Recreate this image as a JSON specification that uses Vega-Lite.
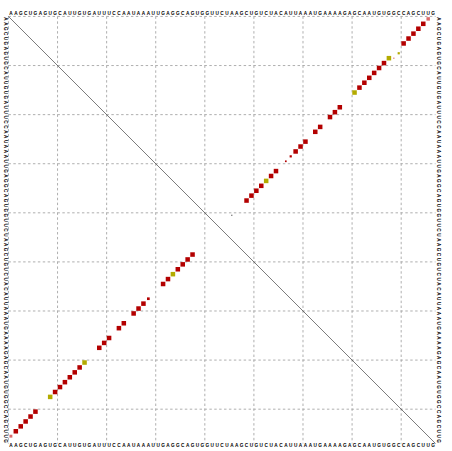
{
  "$schema": "https://vega.github.io/schema/vega-lite/v6.json",
  "width": 427.09,
  "height": 427.09,
  "autosize": "none",
  "padding": {"left": 8.45, "top": 16.45, "right": 16.46, "bottom": 7.46},
  "background": "white",
  "config": {"view": {"stroke": null}},
  "datasets": {
    "grid": [{"g": 0.5}, {"g": 10.5}, {"g": 20.5}, {"g": 30.5}, {"g": 40.5}, {"g": 50.5}, {"g": 60.5}, {"g": 70.5}, {"g": 80.5}],
    "seq": [
      {"i":1,"b":"A"},{"i":2,"b":"A"},{"i":3,"b":"G"},{"i":4,"b":"C"},{"i":5,"b":"U"},{"i":6,"b":"G"},{"i":7,"b":"A"},{"i":8,"b":"G"},{"i":9,"b":"U"},{"i":10,"b":"G"},
      {"i":11,"b":"C"},{"i":12,"b":"A"},{"i":13,"b":"U"},{"i":14,"b":"U"},{"i":15,"b":"G"},{"i":16,"b":"U"},{"i":17,"b":"G"},{"i":18,"b":"A"},{"i":19,"b":"U"},{"i":20,"b":"U"},
      {"i":21,"b":"U"},{"i":22,"b":"C"},{"i":23,"b":"C"},{"i":24,"b":"A"},{"i":25,"b":"A"},{"i":26,"b":"U"},{"i":27,"b":"A"},{"i":28,"b":"A"},{"i":29,"b":"A"},{"i":30,"b":"U"},
      {"i":31,"b":"U"},{"i":32,"b":"G"},{"i":33,"b":"A"},{"i":34,"b":"G"},{"i":35,"b":"G"},{"i":36,"b":"C"},{"i":37,"b":"A"},{"i":38,"b":"G"},{"i":39,"b":"U"},{"i":40,"b":"G"},
      {"i":41,"b":"G"},{"i":42,"b":"U"},{"i":43,"b":"U"},{"i":44,"b":"C"},{"i":45,"b":"U"},{"i":46,"b":"A"},{"i":47,"b":"A"},{"i":48,"b":"G"},{"i":49,"b":"C"},{"i":50,"b":"U"},
      {"i":51,"b":"G"},{"i":52,"b":"U"},{"i":53,"b":"C"},{"i":54,"b":"U"},{"i":55,"b":"A"},{"i":56,"b":"C"},{"i":57,"b":"A"},{"i":58,"b":"U"},{"i":59,"b":"U"},{"i":60,"b":"A"},
      {"i":61,"b":"A"},{"i":62,"b":"A"},{"i":63,"b":"U"},{"i":64,"b":"G"},{"i":65,"b":"A"},{"i":66,"b":"A"},{"i":67,"b":"A"},{"i":68,"b":"A"},{"i":69,"b":"G"},{"i":70,"b":"A"},
      {"i":71,"b":"G"},{"i":72,"b":"C"},{"i":73,"b":"A"},{"i":74,"b":"A"},{"i":75,"b":"U"},{"i":76,"b":"G"},{"i":77,"b":"U"},{"i":78,"b":"G"},{"i":79,"b":"G"},{"i":80,"b":"C"},
      {"i":81,"b":"C"},{"i":82,"b":"A"},{"i":83,"b":"G"},{"i":84,"b":"C"},{"i":85,"b":"U"},{"i":86,"b":"U"},{"i":87,"b":"G"}
    ],
    "pairs": [
      {"col":1,"row":86,"p":0.35,"cls":"pale"},
      {"col":2,"row":85,"p":0.85,"cls":"one"},{"col":3,"row":84,"p":0.85,"cls":"one"},{"col":4,"row":83,"p":0.85,"cls":"one"},{"col":5,"row":82,"p":0.85,"cls":"one"},{"col":6,"row":81,"p":0.85,"cls":"one"},
      {"col":9,"row":78,"p":0.85,"cls":"two"},
      {"col":10,"row":77,"p":0.85,"cls":"one"},{"col":11,"row":76,"p":0.85,"cls":"one"},{"col":12,"row":75,"p":0.85,"cls":"one"},{"col":13,"row":74,"p":0.85,"cls":"one"},{"col":14,"row":73,"p":0.85,"cls":"one"},{"col":15,"row":72,"p":0.85,"cls":"one"},
      {"col":16,"row":71,"p":0.85,"cls":"two"},
      {"col":19,"row":68,"p":0.85,"cls":"one"},{"col":20,"row":67,"p":0.85,"cls":"one"},{"col":21,"row":66,"p":0.85,"cls":"one"},
      {"col":23,"row":64,"p":0.85,"cls":"one"},{"col":24,"row":63,"p":0.85,"cls":"one"},
      {"col":26,"row":61,"p":0.85,"cls":"one"},{"col":27,"row":60,"p":0.85,"cls":"one"},{"col":28,"row":59,"p":0.85,"cls":"one"},{"col":29,"row":58,"p":0.3,"cls":"one"},
      {"col":32,"row":55,"p":0.85,"cls":"one"},{"col":33,"row":54,"p":0.85,"cls":"one"},{"col":34,"row":53,"p":0.85,"cls":"two"},{"col":35,"row":52,"p":0.85,"cls":"one"},{"col":36,"row":51,"p":0.85,"cls":"one"},{"col":37,"row":50,"p":0.85,"cls":"one"},{"col":38,"row":49,"p":0.85,"cls":"one"},
      {"col":86,"row":1,"p":0.5,"cls":"pale"},
      {"col":85,"row":2,"p":0.85,"cls":"one"},{"col":84,"row":3,"p":0.85,"cls":"one"},{"col":83,"row":4,"p":0.85,"cls":"one"},{"col":82,"row":5,"p":0.85,"cls":"one"},{"col":81,"row":6,"p":0.85,"cls":"one"},
      {"col":80,"row":8,"p":0.2,"cls":"two"},
      {"col":79,"row":9,"p":0.1,"cls":"paler"},
      {"col":78,"row":9,"p":0.85,"cls":"two"},
      {"col":77,"row":10,"p":0.85,"cls":"one"},{"col":76,"row":11,"p":0.85,"cls":"one"},{"col":75,"row":12,"p":0.85,"cls":"one"},{"col":74,"row":13,"p":0.85,"cls":"one"},{"col":73,"row":14,"p":0.85,"cls":"one"},{"col":72,"row":15,"p":0.85,"cls":"one"},
      {"col":71,"row":16,"p":0.85,"cls":"two"},
      {"col":68,"row":19,"p":0.85,"cls":"one"},{"col":67,"row":20,"p":0.85,"cls":"one"},{"col":66,"row":21,"p":0.85,"cls":"one"},
      {"col":64,"row":23,"p":0.85,"cls":"one"},{"col":63,"row":24,"p":0.85,"cls":"one"},
      {"col":61,"row":26,"p":0.85,"cls":"one"},{"col":60,"row":27,"p":0.85,"cls":"one"},{"col":59,"row":28,"p":0.85,"cls":"one"},
      {"col":58,"row":29,"p":0.2,"cls":"one"},{"col":57,"row":30,"p":0.12,"cls":"one"},
      {"col":55,"row":32,"p":0.85,"cls":"one"},{"col":54,"row":33,"p":0.85,"cls":"one"},{"col":53,"row":34,"p":0.85,"cls":"two"},{"col":52,"row":35,"p":0.85,"cls":"one"},{"col":51,"row":36,"p":0.85,"cls":"one"},{"col":50,"row":37,"p":0.85,"cls":"one"},{"col":49,"row":38,"p":0.85,"cls":"one"},
      {"col":46,"row":41,"p":0.05,"cls":"dark"}
    ]
  },
  "layer": [
    {
      "data": {"name": "grid"},
      "mark": {"type": "rule", "color": "#9a9a9a", "strokeWidth": 0.8, "strokeDash": [2.45, 2.45]},
      "encoding": {
        "x": {"field": "g", "type": "quantitative", "scale": {"domain": [0.5, 87.5], "nice": false, "zero": false}, "axis": null},
        "y": {"datum": 0.5, "type": "quantitative", "scale": {"domain": [0.5, 87.5], "nice": false, "zero": false, "reverse": true}, "axis": null},
        "y2": {"datum": 87.5}
      }
    },
    {
      "data": {"name": "grid"},
      "mark": {"type": "rule", "color": "#9a9a9a", "strokeWidth": 0.8, "strokeDash": [2.45, 2.45]},
      "encoding": {
        "y": {"field": "g", "type": "quantitative", "axis": null},
        "x": {"datum": 0.5, "type": "quantitative", "axis": null},
        "x2": {"datum": 87.5}
      }
    },
    {
      "data": {"values": [{}]},
      "mark": {"type": "rule", "color": "#444444", "strokeWidth": 0.7},
      "encoding": {
        "x": {"datum": 0.5, "type": "quantitative", "axis": null},
        "y": {"datum": 0.5, "type": "quantitative", "axis": null},
        "x2": {"datum": 87.5},
        "y2": {"datum": 87.5}
      }
    },
    {
      "data": {"name": "pairs"},
      "mark": {"type": "square", "opacity": 1, "filled": true},
      "encoding": {
        "x": {"field": "col", "type": "quantitative", "axis": null},
        "y": {"field": "row", "type": "quantitative", "axis": null},
        "size": {"field": "p", "type": "quantitative", "scale": {"type": "linear", "domain": [0, 1], "range": [0, 24.1], "zero": true}, "legend": null},
        "color": {"field": "cls", "type": "nominal", "scale": {"domain": ["one", "two", "pale", "paler", "dark"], "range": ["#b30000", "#b3ab00", "#d96c6c", "#e8a2a2", "#333333"]}, "legend": null}
      }
    },
    {
      "data": {"name": "seq"},
      "mark": {"type": "text", "font": "Liberation Sans", "fontWeight": "bold", "fontSize": 4.7, "align": "center", "baseline": "alphabetic", "color": "black"},
      "encoding": {
        "x": {"field": "i", "type": "quantitative", "axis": null},
        "y": {"datum": 0.3, "type": "quantitative", "axis": null},
        "text": {"field": "b"}
      }
    },
    {
      "data": {"name": "seq"},
      "mark": {"type": "text", "font": "Liberation Sans", "fontWeight": "bold", "fontSize": 4.7, "align": "center", "baseline": "alphabetic", "color": "black"},
      "encoding": {
        "x": {"field": "i", "type": "quantitative", "axis": null},
        "y": {"datum": 88.3, "type": "quantitative", "axis": null},
        "text": {"field": "b"}
      }
    },
    {
      "data": {"name": "seq"},
      "mark": {"type": "text", "font": "Liberation Sans", "fontWeight": "bold", "fontSize": 4.7, "align": "center", "baseline": "alphabetic", "angle": 90, "color": "black"},
      "encoding": {
        "y": {"field": "i", "type": "quantitative", "axis": null},
        "x": {"datum": -0.4, "type": "quantitative", "axis": null},
        "text": {"field": "b"}
      }
    },
    {
      "data": {"name": "seq"},
      "mark": {"type": "text", "font": "Liberation Sans", "fontWeight": "bold", "fontSize": 4.7, "align": "center", "baseline": "alphabetic", "angle": 90, "color": "black"},
      "encoding": {
        "y": {"field": "i", "type": "quantitative", "axis": null},
        "x": {"datum": 87.7, "type": "quantitative", "axis": null},
        "text": {"field": "b"}
      }
    }
  ]
}
